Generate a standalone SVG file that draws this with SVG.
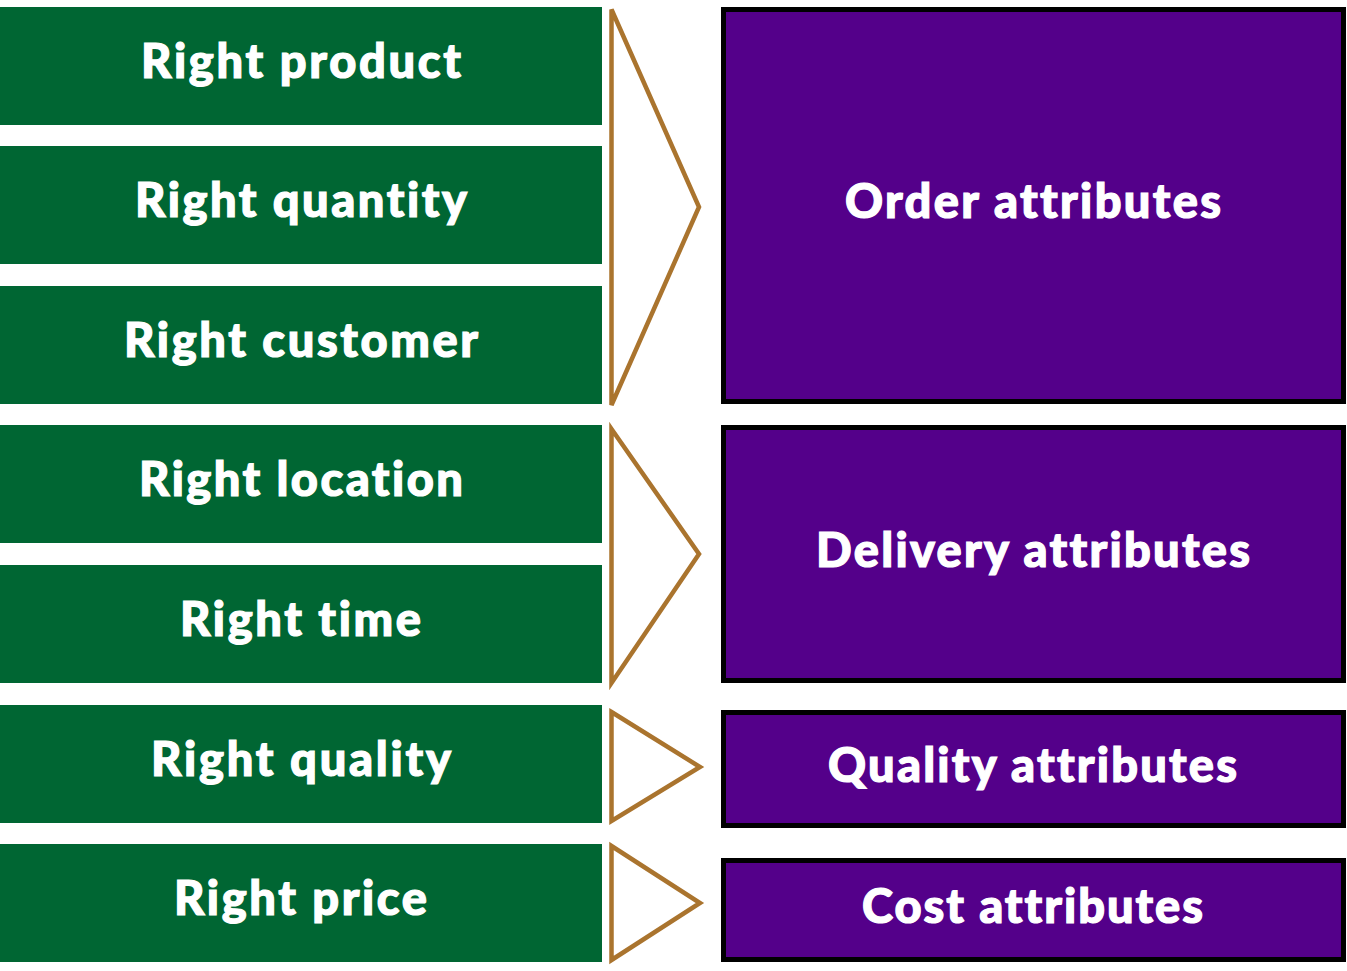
<svg xmlns="http://www.w3.org/2000/svg" width="1347" height="971" viewBox="0 0 1347 971">
<style>
.g{fill:#006633}
.p{fill:#54008A;stroke:#000;stroke-width:5}
.c{fill:none;stroke:#AA742E;stroke-width:4.5;stroke-linejoin:miter}
.t{fill:#fff;stroke:#fff;stroke-width:1.2;font-family:Lato,"Open Sans",sans-serif;font-weight:900;font-size:47px;text-anchor:middle;font-variant-ligatures:none}
</style>
<rect width="1347" height="971" fill="#fff"/>
<g id="right-product"><rect class="g" x="0" y="7" width="602" height="118"/><text class="t" x="301" y="78" textLength="320">Right product</text></g>
<g id="right-quantity"><rect class="g" x="0" y="146" width="602" height="118"/><text class="t" x="301" y="217" textLength="332">Right quantity</text></g>
<g id="right-customer"><rect class="g" x="0" y="286" width="602" height="118"/><text class="t" x="301" y="357" textLength="354">Right customer</text></g>
<g id="right-location"><rect class="g" x="0" y="425" width="602" height="118"/><text class="t" x="301" y="496" textLength="324">Right location</text></g>
<g id="right-time"><rect class="g" x="0" y="565" width="602" height="118"/><text class="t" x="300.5" y="636" textLength="241">Right time</text></g>
<g id="right-quality"><rect class="g" x="0" y="705" width="602" height="118"/><text class="t" x="301" y="776" textLength="300">Right quality</text></g>
<g id="right-price"><rect class="g" x="0" y="844" width="602" height="118"/><text class="t" x="300.5" y="915" textLength="253">Right price</text></g>
<g id="connectors">
<polygon class="c" points="611.5,9.5 699,207 611.5,405"/>
<polygon class="c" points="611.5,429 699,554 611.5,683"/>
<polygon class="c" points="611.5,712 700,767 611.5,821"/>
<polygon class="c" points="611.5,846 700,903 611.5,960"/>
</g>
<g id="order-attributes"><rect class="p" x="723.5" y="9.5" width="620" height="392"/><text class="t" x="1033" y="218" textLength="376">Order attributes</text></g>
<g id="delivery-attributes"><rect class="p" x="723.5" y="427.5" width="620" height="253"/><text class="t" x="1033" y="567" textLength="434">Delivery attributes</text></g>
<g id="quality-attributes"><rect class="p" x="723.5" y="712.5" width="620" height="113"/><text class="t" x="1032.5" y="782" textLength="409">Quality attributes</text></g>
<g id="cost-attributes"><rect class="p" x="723.5" y="860.5" width="620" height="99"/><text class="t" x="1032.5" y="923" textLength="341">Cost attributes</text></g>
</svg>
